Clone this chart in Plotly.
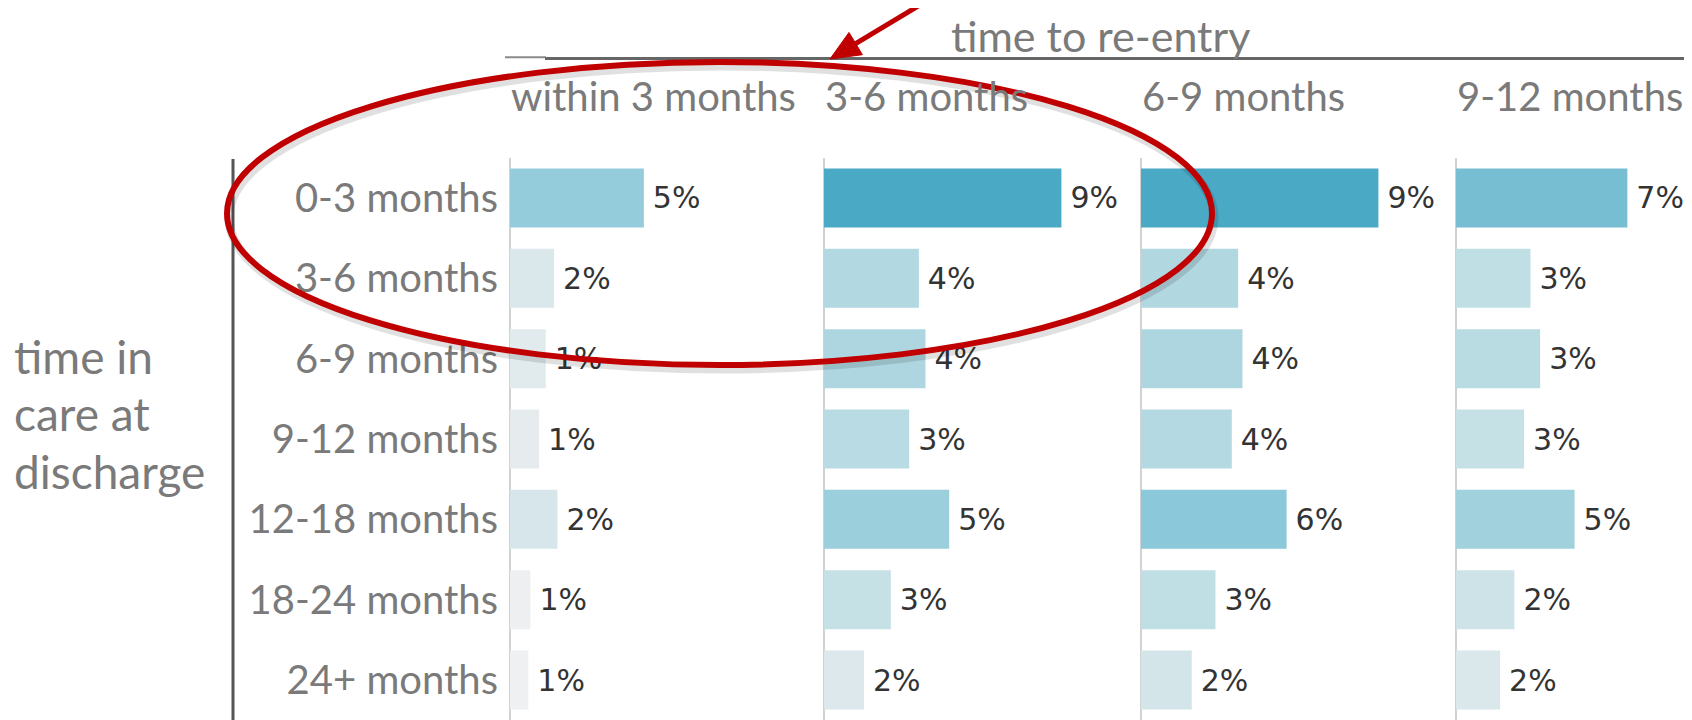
import math
import plotly.graph_objects as go

W, H = 1692, 720

rows = ["0-3 months", "3-6 months", "6-9 months", "9-12 months",
        "12-18 months", "18-24 months", "24+ months"]
columns = ["within 3 months", "3-6 months", "6-9 months", "9-12 months"]

# share of children re-entering care (%)
within_3 = [5.25, 1.73, 1.40, 1.14, 1.86, 0.80, 0.72]
m3_6 = [9.31, 3.72, 3.98, 3.34, 4.91, 2.62, 1.57]
m6_9 = [9.31, 3.81, 3.98, 3.56, 5.71, 2.92, 1.99]
m9_12 = [6.72, 2.92, 3.30, 2.67, 4.65, 2.29, 1.73]
series = [within_3, m3_6, m6_9, m9_12]

scale = [[0, "#eff0f1"], [0.12, "#dae7eb"], [0.255, "#c0dfe5"], [0.38, "#aed6e0"],
         [0.53, "#94ccdb"], [0.70, "#77bed3"], [1, "#4aa9c4"]]

GREY = "#7a7a7a"
RED = "#c00000"
LABEL_FONT = "Lato, Open Sans, sans-serif"
OFF = 8  # page body margin


def px(x):
    return (x - OFF) / W


def py(y):
    return 1 - (y - OFF) / H


px_per_pct = 25.5
starts = [510, 824, 1141, 1456]
ends = [800, 1114, 1431, 1700]

fig = go.Figure()
for i, vals in enumerate(series):
    ax = "x" if i == 0 else f"x{i + 1}"
    fig.add_trace(go.Bar(
        x=vals, y=rows, orientation="h", xaxis=ax, yaxis="y",
        width=0.735,
        marker=dict(color=vals, colorscale=scale, cmin=0.7, cmax=9.31, line=dict(width=0)),
        texttemplate="\u2009%{x:.0f}%", textposition="outside", cliponaxis=False,
        constraintext="none",
        outsidetextfont=dict(family="DejaVu Sans", size=30, color="#333333"),
        hoverinfo="skip", showlegend=False,
    ))
    axname = "xaxis" if i == 0 else f"xaxis{i + 1}"
    fig.update_layout({axname: dict(
        domain=[px(starts[i]), min(px(ends[i]), 1)],
        range=[0, (min(ends[i], W + OFF) - starts[i]) / px_per_pct],
        anchor="y", showticklabels=False, showgrid=False, ticks="",
        zeroline=True, zerolinecolor="#d2d2d2", zerolinewidth=1.5, showline=False,
    )})
    fig.add_annotation(text=columns[i], xref=ax + " domain",
                       yref="paper", x=0, y=py(96), xanchor="left", yanchor="middle",
                       showarrow=False, xshift=-1,
                       font=dict(family=LABEL_FONT, size=40, color=GREY))

fig.update_layout(
    yaxis=dict(domain=[py(720.2), py(157.8)], anchor="x", type="category",
               categoryorder="array", categoryarray=rows, range=[6.5, -0.5],
               showgrid=False, zeroline=False, showline=False,
               ticks="outside", ticklen=3, tickcolor="rgba(0,0,0,0)",
               tickfont=dict(family=LABEL_FONT, size=40, color=GREY)),
    width=W, height=H, margin=dict(l=0, r=0, t=0, b=0),
    paper_bgcolor="white", plot_bgcolor="white", bargap=0.25,
)

# header "time to re-entry"
fig.add_annotation(text="time to re-entry", xref="paper", yref="paper",
                   x=px(1100), y=1, xanchor="center", yanchor="top",
                   showarrow=False, font=dict(family=LABEL_FONT, size=43, color=GREY))
fig.add_shape(type="line", xref="paper", yref="paper", x0=px(505), x1=px(546),
              y0=py(57.3), y1=py(57.3), line=dict(color="#8a8a8a", width=2))
fig.add_shape(type="line", xref="paper", yref="paper", x0=px(545), x1=1,
              y0=py(58.5), y1=py(58.5), line=dict(color="#666666", width=3))

# row title
for txt, yy in [("time in", 356), ("care at", 413), ("discharge", 471)]:
    fig.add_annotation(text=txt, xref="paper", yref="paper", x=px(12), y=py(yy),
                       xanchor="left", yanchor="middle", showarrow=False,
                       font=dict(family=LABEL_FONT, size=46, color=GREY))
fig.add_shape(type="line", xref="paper", yref="paper", x0=px(233), x1=px(233),
              y0=py(159), y1=0, line=dict(color="#555555", width=3))

# red highlight ellipse with a soft shadow
fig.add_shape(type="circle", xref="paper", yref="paper",
              x0=px(229), x1=px(1214), y0=py(66), y1=py(369),
              line=dict(color="rgba(0,0,0,0.12)", width=9))
fig.add_shape(type="circle", xref="paper", yref="paper",
              x0=px(227), x1=px(1212), y0=py(62), y1=py(365),
              line=dict(color=RED, width=6))

# arrow pointing at the header (shaft + triangular head)
tip = (830, 59)
ang = math.radians(31)
d = (math.cos(ang), -math.sin(ang))
nrm = (-d[1], d[0])
head_len, head_half = 30, 13
base = (tip[0] + head_len * d[0], tip[1] + head_len * d[1])
t_top = (tip[1] + 10) / math.sin(ang)
tail = (tip[0] + t_top * d[0], tip[1] + t_top * d[1])
fig.add_shape(type="line", xref="paper", yref="paper",
              x0=px(base[0] - 4 * d[0]), y0=py(base[1] - 4 * d[1]),
              x1=px(tail[0]), y1=py(tail[1]), line=dict(color=RED, width=5))
p1 = (base[0] + head_half * nrm[0], base[1] + head_half * nrm[1])
p2 = (base[0] - head_half * nrm[0], base[1] - head_half * nrm[1])
fig.add_shape(type="path", xref="paper", yref="paper",
              path=f"M {px(tip[0])} {py(tip[1])} L {px(p1[0])} {py(p1[1])} "
                   f"L {px(p2[0])} {py(p2[1])} Z",
              fillcolor=RED, line=dict(color=RED, width=1))

fig.write_html("out.html")
